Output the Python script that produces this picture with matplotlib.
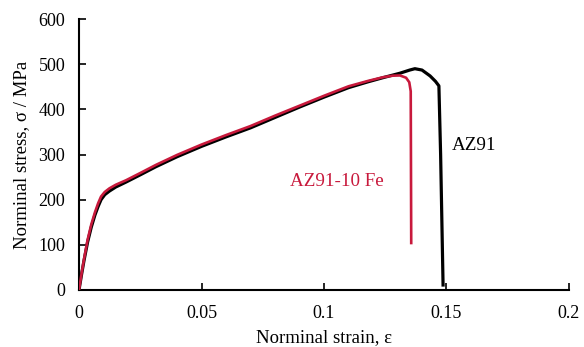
import matplotlib
matplotlib.use("Agg")
import matplotlib.pyplot as plt

plt.rcParams['font.family'] = ['Liberation Serif', 'DejaVu Serif']

# AZ91 (black)
az91_strain = [0, 0.001, 0.002, 0.0035, 0.005, 0.0065, 0.0078, 0.009, 0.0105, 0.0124, 0.015,
               0.0192, 0.025, 0.0314, 0.04, 0.05, 0.06, 0.07, 0.08, 0.09, 0.10, 0.11, 0.118,
               0.124, 0.131, 0.135, 0.1371, 0.140, 0.1433, 0.1455, 0.1469, 0.1476, 0.1486]
az91_stress = [0, 33, 64, 106, 139, 166, 185, 200, 211, 219, 228,
               239, 255, 273, 295, 318, 339, 359, 382, 405, 427, 448, 461,
               470, 480, 487, 490, 487, 474, 462, 452, 300, 11]

# AZ91-10 Fe (red)
fe_strain = [0, 0.001, 0.002, 0.0035, 0.005, 0.0065, 0.0078, 0.009, 0.0105, 0.0124, 0.015,
             0.0192, 0.025, 0.0314, 0.04, 0.05, 0.06, 0.07, 0.08, 0.09, 0.10, 0.11, 0.118,
             0.124, 0.128, 0.131, 0.1335, 0.1348, 0.1354, 0.1356]
fe_stress = [0, 35, 67, 111, 145, 172, 192, 207, 217, 225, 233,
             243, 259, 277, 299, 322, 343, 363, 386, 408, 430, 451, 463,
             471, 474.5, 475, 470, 460, 440, 104]

x_ticks = [0, 0.05, 0.1, 0.15, 0.2]
x_tick_labels = ['0', '0.05', '0.1', '0.15', '0.2']
y_ticks = [0, 100, 200, 300, 400, 500, 600]

fig = plt.figure(figsize=(5.84, 3.47), dpi=100)
ax = fig.add_axes([0.1353, 0.1643, 0.8390, 0.7809])

ax.plot(az91_strain, az91_stress, color='black', lw=2.3, solid_joinstyle='round', zorder=2)
ax.plot(fe_strain, fe_stress, color='#C8193C', lw=1.9, solid_joinstyle='round', zorder=3)

ax.set_xlim(0, 0.2)
ax.set_ylim(0, 600)
ax.set_xticks(x_ticks)
ax.set_xticklabels(x_tick_labels)
ax.set_yticks(y_ticks)
ax.tick_params(direction='in', length=5, width=1.2, labelsize=13, colors='black')
ax.tick_params(axis='x', pad=11)
ax.tick_params(axis='y', pad=10)

for s in ['top', 'right']:
    ax.spines[s].set_visible(False)
for s in ['left', 'bottom']:
    ax.spines[s].set_linewidth(1.5)

ax.set_xlabel('Norminal strain, ε', fontsize=13.5, labelpad=5)
ax.set_ylabel('Norminal stress, σ / MPa', fontsize=13.5, labelpad=6)

ax.text(0.1611, 321, 'AZ91', fontsize=13.7, color='black', ha='center', va='center')
ax.text(0.1054, 241, 'AZ91-10 Fe', fontsize=13.7, color='#C8193C', ha='center', va='center')

fig.savefig('out.png', dpi=100)
